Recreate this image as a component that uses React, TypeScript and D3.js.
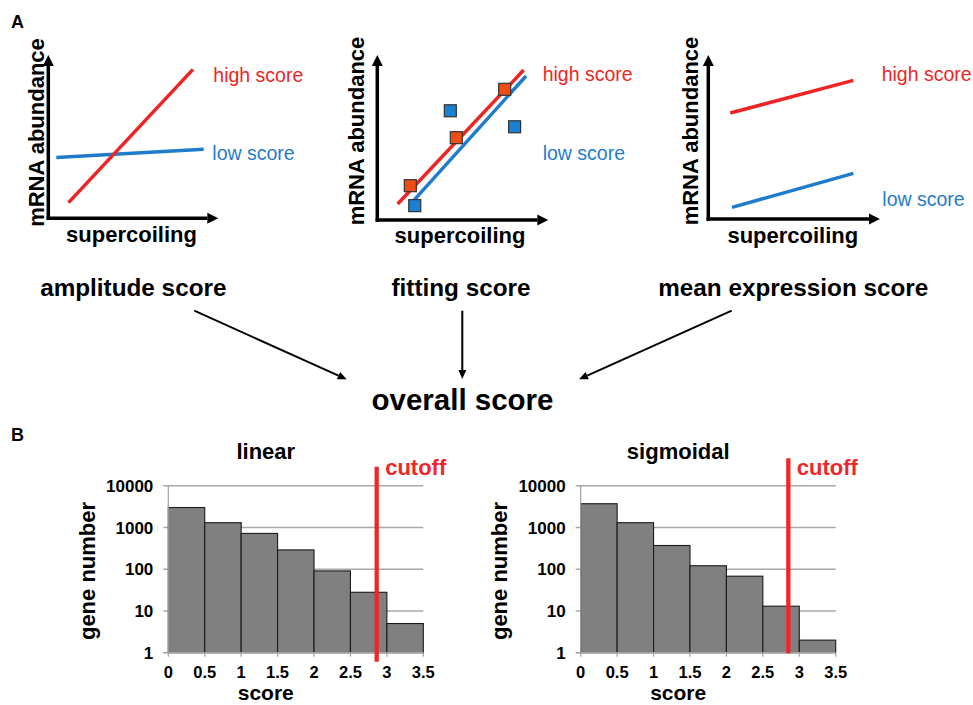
import React from "react";
import * as d3 from "d3";

// ---------- Data ----------
// Panel A: schematic lines / points (in 0-10 abstract units)
const amplitudeHigh: [number, number][] = [[1.19, 0.96], [8.51, 9.12]];
const amplitudeLow: [number, number][] = [[0.47, 3.72], [9.14, 4.23]];
const fittingHigh: [number, number][] = [[1.19, 0.97], [8.56, 9.09]];
const fittingLow: [number, number][] = [[2.03, 1.07], [8.7, 8.73]];
const fittingHighPts: [number, number][] = [[1.93, 2.08], [4.62, 4.99], [7.45, 7.92]];
const fittingLowPts: [number, number][] = [[4.27, 6.62], [8.03, 5.65], [2.19, 0.87]];
const meanHigh: [number, number][] = [[1.28, 6.46], [8.45, 8.45]];
const meanLow: [number, number][] = [[1.38, 0.71], [8.45, 2.78]];
const scoreNames = ["amplitude score", "fitting score", "mean expression score"];

// Panel B: histograms
const binStarts = [0, 0.5, 1, 1.5, 2, 2.5, 3];
const binWidth = 0.5;
const linearCounts = [3000, 1300, 720, 290, 91, 28, 5];
const sigmoidalCounts = [3700, 1300, 370, 121, 68, 13, 2];
const xTicks = [0, 0.5, 1, 1.5, 2, 2.5, 3, 3.5];
const yTicks = [1, 10, 100, 1000, 10000];
const cutoffLinear = 2.86;
const cutoffSigmoidal = 2.85;

const FONT = "'Liberation Sans', Arial, Helvetica, sans-serif";
const RED = "#ee2424";
const BLUE = "#1f7ccc";

type Frame = { x0: number; y0: number; x1: number; y1: number };

function Arrow({ x1, y1, x2, y2, w, len, hw }: any) {
  const ang = Math.atan2(y2 - y1, x2 - x1);
  const bx = x2 - len * Math.cos(ang);
  const by = y2 - len * Math.sin(ang);
  const px = -Math.sin(ang) * hw;
  const py = Math.cos(ang) * hw;
  return (
    <g>
      <line x1={x1} y1={y1} x2={bx} y2={by} stroke="#000" strokeWidth={w} />
      <path d={`M${x2},${y2}L${bx + px},${by + py}L${bx - px},${by - py}Z`} fill="#000" />
    </g>
  );
}

function Schematic({ f, lines, pts, labels, ylab, xlab }: any) {
  const x = d3.scaleLinear().domain([0, 10]).range([f.x0, f.x1]);
  const y = d3.scaleLinear().domain([0, 10]).range([f.y0, f.y1]);
  const line = d3.line<[number, number]>().x((d) => x(d[0])).y((d) => y(d[1]));
  return (
    <g>
      <Arrow x1={f.x0} y1={f.y0 + 1.7} x2={f.x0} y2={f.y1} w={3.5} len={11} hw={5.5} />
      <Arrow x1={f.x0 - 1.7} y1={f.y0} x2={f.x1} y2={f.y0} w={3.5} len={11} hw={5.5} />
      {lines.map((l: any, i: number) => (
        <path key={i} d={line(l.d) || ""} stroke={l.c} strokeWidth={3.5} fill="none" />
      ))}
      {pts &&
        pts.map((p: any, i: number) =>
          p.d.map((d: [number, number], j: number) => (
            <rect
              key={i + "-" + j}
              x={x(d[0]) - 6}
              y={y(d[1]) - 6}
              width={12}
              height={12}
              fill={p.c}
              stroke="#333"
              strokeWidth={1.2}
            />
          ))
        )}
      {labels.map((l: any, i: number) => (
        <text key={i} x={l.x} y={l.y} fill={l.c} fontSize={19.5} fontFamily={FONT}>
          {l.t}
        </text>
      ))}
      <text
        transform={`translate(${ylab.x},${ylab.y}) rotate(-90)`}
        textAnchor="middle"
        fontSize={22}
        fontWeight="bold"
        fontFamily={FONT}
      >
        mRNA abundance
      </text>
      <text x={xlab.x} y={xlab.y} textAnchor="middle" fontSize={22} fontWeight="bold" fontFamily={FONT}>
        supercoiling
      </text>
    </g>
  );
}

function Histogram({ left, counts, cutoff, title, cutTop, cutBottom }: any) {
  const x = d3.scaleLinear().domain([0, 3.5]).range([left, left + 255]);
  const y = d3.scaleLog().domain([1, 10000]).range([652.7, 485.7]);
  const fmt = (v: number) => String(v);
  return (
    <g fontFamily={FONT}>
      {yTicks.slice(1).map((t) => (
        <line key={t} x1={x(0) - 5} x2={x(3.5)} y1={y(t)} y2={y(t)} stroke="#a8a8a8" strokeWidth={1.5} />
      ))}
      {binStarts.map((b, i) => (
        <rect
          key={b}
          x={x(b)}
          y={y(counts[i])}
          width={x(b + binWidth) - x(b)}
          height={y(1) - y(counts[i])}
          fill="#808080"
          stroke="#1a1a1a"
          strokeWidth={1.1}
        />
      ))}
      <line x1={x(0) - 5} x2={x(3.5)} y1={y(1)} y2={y(1)} stroke="#a0a0a0" strokeWidth={1.5} />
      <line x1={x(0)} x2={x(0)} y1={y(1)} y2={y(10000)} stroke="#a0a0a0" strokeWidth={1.2} />
      {xTicks.map((t) => (
        <line key={t} x1={x(t)} x2={x(t)} y1={y(1)} y2={y(1) + 4} stroke="#a0a0a0" strokeWidth={1.2} />
      ))}
      {yTicks.map((t) => (
        <text key={t} x={x(0) - 15} y={y(t)} dy="0.36em" textAnchor="end" fontSize={17} fontWeight="bold">
          {fmt(t)}
        </text>
      ))}
      {xTicks.map((t) => (
        <text key={t} x={x(t)} y={677.5} textAnchor="middle" fontSize={16.5} fontWeight="bold">
          {fmt(t)}
        </text>
      ))}
      <line x1={x(cutoff)} x2={x(cutoff)} y1={cutTop} y2={cutBottom} stroke="#f0262b" strokeWidth={4.3} />
      <text x={x(cutoff) + 8.5} y={474.5} fill="#f0262b" fontSize={22} fontWeight="bold">
        cutoff
      </text>
      <text x={x(1.75) - 30} y={459} textAnchor="middle" fontSize={22} fontWeight="bold">
        {title}
      </text>
      <text x={x(1.75) - 30} y={700} textAnchor="middle" fontSize={21} fontWeight="bold">
        score
      </text>
      <text
        transform={`translate(${x(0) - 73.5},571) rotate(-90)`}
        textAnchor="middle"
        fontSize={22}
        fontWeight="bold"
      >
        gene number
      </text>
    </g>
  );
}

export default function App() {
  const f1: Frame = { x0: 48.3, y0: 218.3, x1: 218.3, y1: 55 };
  const f2: Frame = { x0: 377.3, y0: 220, x1: 548.3, y1: 55 };
  const f3: Frame = { x0: 708.3, y0: 219, x1: 880, y1: 55 };
  const scoreX = [133.3, 461, 793.3];
  return (
    <svg
      width={973}
      height={705}
      style={{ position: "absolute", left: 0, top: 0, background: "#fff" }}
      fontFamily={FONT}
    >
      <rect width={973} height={705} fill="#fff" />
      <text x={11} y={28} fontSize={18} fontWeight="bold">A</text>
      <text x={11} y={441} fontSize={18} fontWeight="bold">B</text>

      <Schematic
        f={f1}
        lines={[
          { d: amplitudeLow, c: BLUE },
          { d: amplitudeHigh, c: RED },
        ]}
        labels={[
          { x: 213.3, y: 82, t: "high score", c: RED },
          { x: 212.3, y: 159.5, t: "low score", c: BLUE },
        ]}
        ylab={{ x: 43.5, y: 132.5 }}
        xlab={{ x: 131.5, y: 241.5 }}
      />
      <Schematic
        f={f2}
        lines={[
          { d: fittingLow, c: BLUE },
          { d: fittingHigh, c: RED },
        ]}
        pts={[
          { d: fittingHighPts, c: "#f04c14" },
          { d: fittingLowPts, c: "#1a80d2" },
        ]}
        labels={[
          { x: 542.7, y: 81, t: "high score", c: RED },
          { x: 542.7, y: 159.5, t: "low score", c: BLUE },
        ]}
        ylab={{ x: 364, y: 131 }}
        xlab={{ x: 460, y: 243 }}
      />
      <Schematic
        f={f3}
        lines={[
          { d: meanHigh, c: RED },
          { d: meanLow, c: BLUE },
        ]}
        labels={[
          { x: 881.7, y: 81, t: "high score", c: RED },
          { x: 882.3, y: 205.5, t: "low score", c: BLUE },
        ]}
        ylab={{ x: 698, y: 131 }}
        xlab={{ x: 792.8, y: 243 }}
      />

      {scoreNames.map((s, i) => (
        <text key={s} x={scoreX[i]} y={296} textAnchor="middle" fontSize={24.3} fontWeight="bold">
          {s}
        </text>
      ))}
      <Arrow x1={194.3} y1={310.7} x2={346.7} y2={379.3} w={2} len={9} hw={4} />
      <Arrow x1={462.3} y1={310.7} x2={462.3} y2={379} w={2} len={9} hw={4} />
      <Arrow x1={731.7} y1={310.7} x2={579} y2={379.3} w={2} len={9} hw={4} />
      <text x={462.5} y={410} textAnchor="middle" fontSize={29.5} fontWeight="bold">
        overall score
      </text>

      <Histogram left={168.3} counts={linearCounts} cutoff={cutoffLinear} title="linear" cutTop={466.7} cutBottom={661.7} />
      <Histogram left={580.7} counts={sigmoidalCounts} cutoff={cutoffSigmoidal} title="sigmoidal" cutTop={458.3} cutBottom={653.3} />
    </svg>
  );
}
